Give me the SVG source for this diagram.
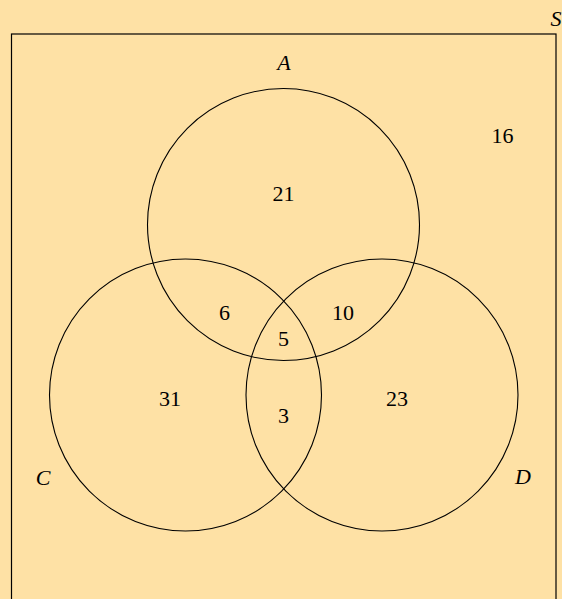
<svg xmlns="http://www.w3.org/2000/svg" width="562" height="599" viewBox="0 0 562 599">
  <style>
    .set { fill: none; stroke: #000; stroke-width: 1.1; }
    .num { font-family: "Liberation Serif", "DejaVu Serif", serif; font-size: 22px; text-anchor: middle; fill: #000; }
    .lbl { font-family: "Liberation Serif", "DejaVu Serif", serif; font-size: 22px; font-style: italic; text-anchor: middle; fill: #000; }
  </style>
  <rect x="0" y="0" width="562" height="599" fill="#FEE1A5"/>
  <g id="universe">
    <rect x="11.5" y="34" width="544.5" height="600" fill="none" stroke="#000" stroke-width="1.2"/>
    <text class="lbl" x="556" y="26">S</text>
    <text class="num" x="502.5" y="143">16</text>
  </g>
  <g id="setA">
    <circle class="set" cx="283.5" cy="224.5" r="136"/>
    <text class="lbl" x="284" y="70">A</text>
  </g>
  <g id="setC">
    <circle class="set" cx="185.5" cy="395" r="136"/>
    <text class="lbl" x="43" y="485">C</text>
  </g>
  <g id="setD">
    <circle class="set" cx="382" cy="395" r="136"/>
    <text class="lbl" x="523" y="484">D</text>
  </g>
  <g id="regions">
    <text class="num" x="283.5" y="201">21</text>
    <text class="num" x="224.5" y="320">6</text>
    <text class="num" x="343" y="320">10</text>
    <text class="num" x="283.5" y="346">5</text>
    <text class="num" x="170" y="406">31</text>
    <text class="num" x="397" y="406">23</text>
    <text class="num" x="283.5" y="423">3</text>
  </g>
</svg>
